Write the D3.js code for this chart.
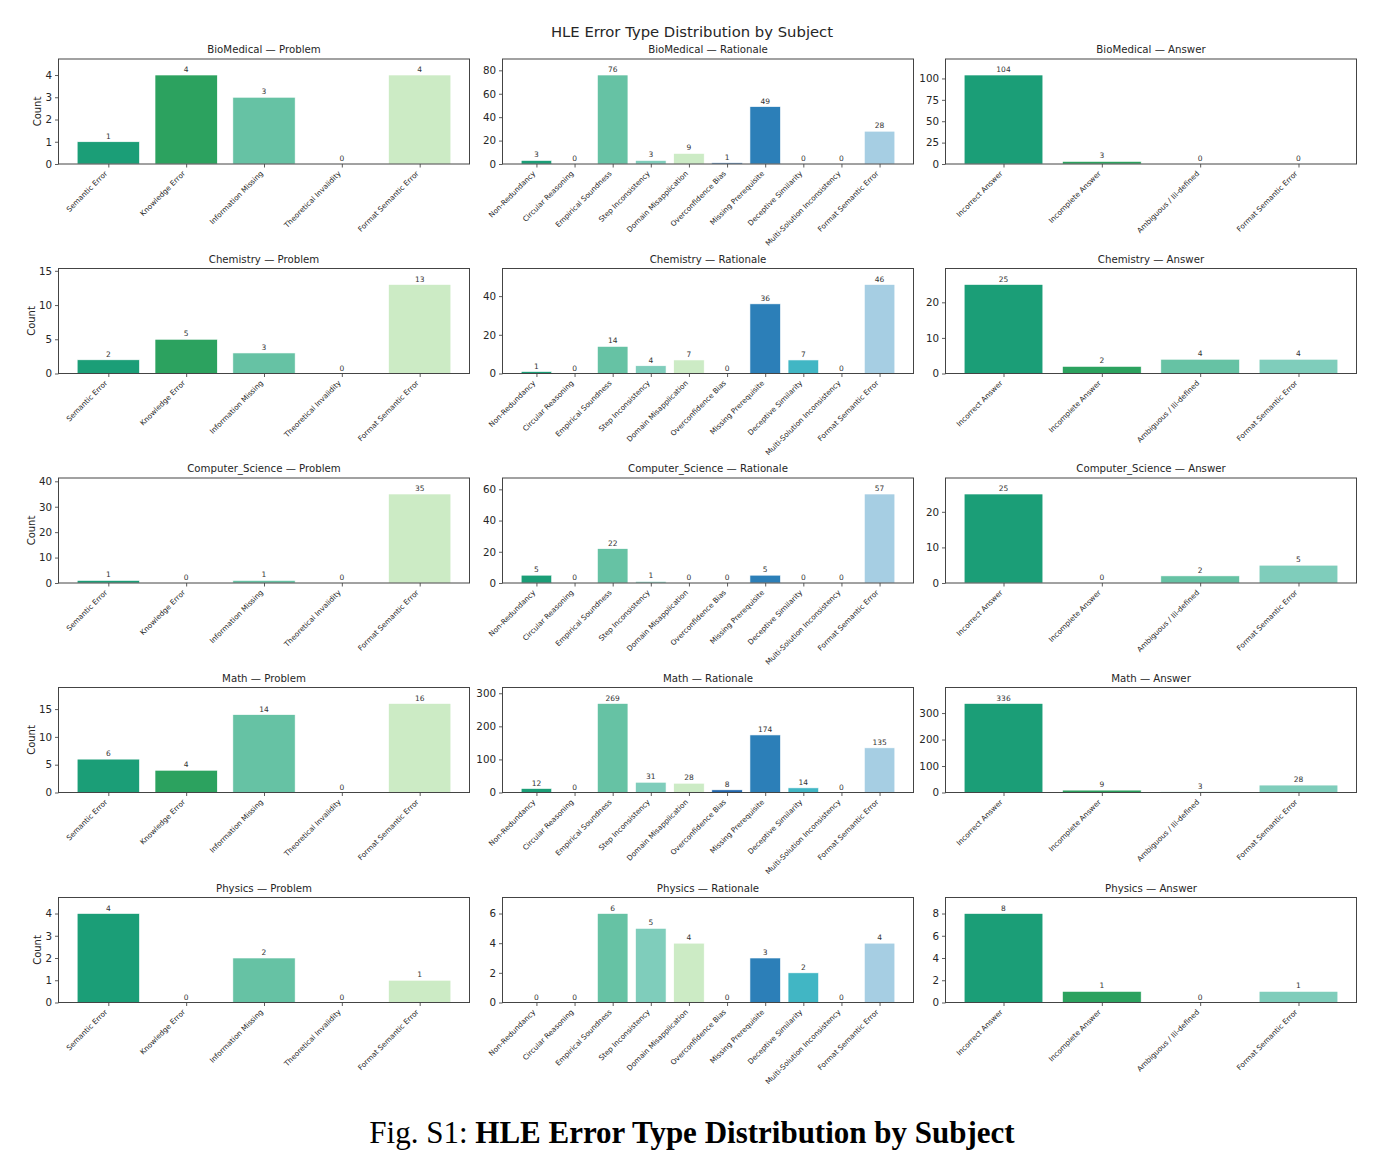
<!DOCTYPE html>
<html>
<head>
<meta charset="utf-8">
<script src="https://cdn.jsdelivr.net/npm/d3@7"></script>
<style>
  body { margin: 0; background: #fff; }
  svg { display: block; }
  text { font-family: "DejaVu Sans", sans-serif; fill: #262626; }
</style>
</head>
<body>
<div id="chart"></div>
<script>
// subjects (rows) and the three error stages (columns)
var subjects = ["BioMedical", "Chemistry", "Computer_Science", "Math", "Physics"];
var stages = ["Problem", "Rationale", "Answer"];

// category labels per stage
var problemCats = ["Semantic Error", "Knowledge Error", "Information Missing", "Theoretical Invalidity", "Format Semantic Error"];
var rationaleCats = ["Non-Redundancy", "Circular Reasoning", "Empirical Soundness", "Step Inconsistency", "Domain Misapplication",
    "Overconfidence Bias", "Missing Prerequisite", "Deceptive Similarity", "Multi-Solution Inconsistency", "Format Semantic Error"];
var answerCats = ["Incorrect Answer", "Incomplete Answer", "Ambiguous / Ill-defined", "Format Semantic Error"];

// counts, one array per subject, in subject order
var problemCounts = [
    [1, 4, 3, 0, 4],
    [2, 5, 3, 0, 13],
    [1, 0, 1, 0, 35],
    [6, 4, 14, 0, 16],
    [4, 0, 2, 0, 1]
];
var rationaleCounts = [
    [3, 0, 76, 3, 9, 1, 49, 0, 0, 28],
    [1, 0, 14, 4, 7, 0, 36, 7, 0, 46],
    [5, 0, 22, 1, 0, 0, 5, 0, 0, 57],
    [12, 0, 269, 31, 28, 8, 174, 14, 0, 135],
    [0, 0, 6, 5, 4, 0, 3, 2, 0, 4]
];
var answerCounts = [
    [104, 3, 0, 0],
    [25, 2, 4, 4],
    [25, 0, 2, 5],
    [336, 9, 3, 28],
    [8, 1, 0, 1]
];

// colours go by bar position
var palette = ["#1b9e77", "#2ca25f", "#66c2a4", "#7fcdbb", "#ccebc5",
    "#2166ac", "#2c7fb8", "#41b6c4", "#0868ac", "#a6cee3"];

var width = 1383, height = 1167;
var colX = [58.5, 502.5, 945.5];
var rowY = [59, 268.5, 478, 687.5, 897.5];
var panelW = 411, panelH = 105;

var svg = d3.select("#chart").append("svg")
    .attr("width", width)
    .attr("height", height);

svg.append("text")
    .attr("x", 692).attr("y", 37)
    .attr("text-anchor", "middle")
    .style("font-size", "14.8px")
    .text("HLE Error Type Distribution by Subject");

// matplotlib-like tick step: at most 5 bins, steps 1, 2, 2.5, 5, 10
function niceStep(vmax) {
    var raw = vmax / 5;
    var mag = Math.pow(10, Math.floor(Math.log10(raw)));
    var steps = [1, 2, 2.5, 5, 10];
    for (var i = 0; i < steps.length; i++) {
        var s = steps[i] * mag;
        if (Math.ceil(vmax / s - 1e-9) <= 5) return s;
    }
    return 10 * mag;
}

function drawPanel(g, cats, vals, title, showYLabel) {
    var n = cats.length;
    var pad = 0.05 * (n - 0.2);
    var x = d3.scaleLinear()
        .domain([-0.4 - pad, n - 1 + 0.4 + pad])
        .range([0, panelW]);
    var ymax = d3.max(vals) * 1.18;
    var y = d3.scaleLinear().domain([0, ymax]).range([panelH, 0]);

    var step = niceStep(ymax);
    var ticks = d3.range(0, ymax + 1e-9, step);

    g.append("text")
        .attr("x", panelW / 2).attr("y", -6)
        .attr("text-anchor", "middle")
        .style("font-size", "10.2px")
        .text(title);

    // bars
    g.selectAll(".bar")
        .data(vals)
        .enter().append("rect")
        .attr("class", "bar")
        .attr("x", function(d, i) { return x(i - 0.4); })
        .attr("width", function() { return x(0.8) - x(0); })
        .attr("y", function(d) { return y(d); })
        .attr("height", function(d) { return panelH - y(d); })
        .style("fill", function(d, i) { return palette[i]; })
        .style("stroke", "#ffffff")
        .style("stroke-width", 0.6);

    // value labels
    g.selectAll(".val")
        .data(vals)
        .enter().append("text")
        .attr("class", "val")
        .attr("x", function(d, i) { return x(i); })
        .attr("y", function(d) { return y(d) - 3; })
        .attr("text-anchor", "middle")
        .style("font-size", "7.5px")
        .style("fill", "#333")
        .text(function(d) { return d; });

    // y axis
    var yAxis = d3.axisLeft(y).tickValues(ticks).tickSize(3.5).tickPadding(3)
        .tickFormat(function(d) { return d3.format("~g")(d); });
    var ya = g.append("g").call(yAxis);
    ya.select(".domain").remove();
    ya.selectAll("line").style("stroke", "#333").style("stroke-width", 0.8);
    ya.selectAll("text").style("font-size", "10.3px").style("fill", "#262626")
        .style("font-family", "DejaVu Sans, sans-serif");

    // x axis with rotated labels
    var xAxis = d3.axisBottom(x).tickValues(d3.range(n)).tickSize(3.5)
        .tickFormat(function(i) { return cats[i]; });
    var xa = g.append("g").attr("transform", "translate(0," + panelH + ")").call(xAxis);
    xa.select(".domain").remove();
    xa.selectAll("line").style("stroke", "#333").style("stroke-width", 0.8);
    xa.selectAll("text")
        .attr("y", 0).attr("dy", 0)
        .attr("text-anchor", "end")
        .attr("transform", "translate(-1,10) rotate(-45)")
        .style("font-size", "7.3px")
        .style("fill", "#262626")
        .style("font-family", "DejaVu Sans, sans-serif");

    // frame
    g.append("rect")
        .attr("width", panelW).attr("height", panelH)
        .style("fill", "none")
        .style("stroke", "#444")
        .style("stroke-width", 1);

    if (showYLabel) {
        // sit the label just left of the widest tick label
        var left = ya.node().getBBox().x;
        g.append("text")
            .attr("transform", "translate(" + (left - 4) + "," + panelH / 2 + ") rotate(-90)")
            .attr("text-anchor", "middle")
            .style("font-size", "10px")
            .text("Count");
    }
}

var catsByStage = [problemCats, rationaleCats, answerCats];
var countsByStage = [problemCounts, rationaleCounts, answerCounts];

subjects.forEach(function(subject, r) {
    stages.forEach(function(stage, c) {
        var g = svg.append("g")
            .attr("transform", "translate(" + colX[c] + "," + rowY[r] + ")");
        drawPanel(g, catsByStage[c], countsByStage[c][r], subject + " \u2014 " + stage, c === 0);
    });
});

// figure caption
var cap = svg.append("text")
    .attr("x", 692).attr("y", 1143)
    .attr("text-anchor", "middle")
    .style("font-family", "Liberation Serif, serif")
    .style("font-size", "31px")
    .style("fill", "#000");
cap.append("tspan").text("Fig. S1: ");
cap.append("tspan").style("font-weight", "bold").text("HLE Error Type Distribution by Subject");
</script>
</body>
</html>
